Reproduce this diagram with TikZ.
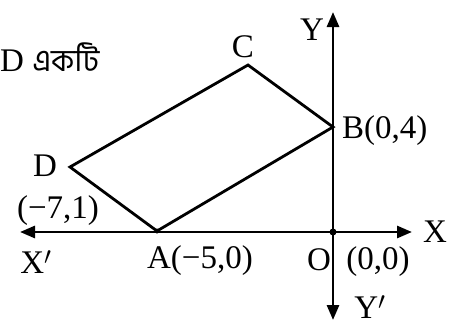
\documentclass[tikz,border=0pt]{standalone}
\usepackage{fontspec}
\setmainfont{Liberation Serif}
\newfontfamily\bnfont[Script=Bengali]{Hind Siliguri}
\usetikzlibrary{arrows.meta}
\begin{document}
\begin{tikzpicture}[x=1pt,y=-1pt,
  axis/.style={line width=2.8pt,-{Triangle[length=15pt,width=12pt]}},
  side/.style={line width=2.8pt,line join=miter},
  lbl/.style={inner sep=0pt,font=\fontsize{33}{35}\selectfont},
  dotpt/.style={circle,fill=black,inner sep=0pt,minimum size=7pt}]
\useasboundingbox (0,0) rectangle (466,327);
\coordinate (O) at (333,232);
\coordinate (A) at (157,231);
\coordinate (B) at (333,127);
\coordinate (C) at (248,65);
\coordinate (D) at (70,167);
\coordinate (Xr) at (412,232);
\coordinate (Xl) at (20,232);
\coordinate (Yt) at (333,12);
\coordinate (Yb) at (333,320);
\draw[axis] (O) -- (Xr);
\draw[axis] (O) -- (Xl);
\draw[axis] (O) -- (Yt);
\draw[axis] (O) -- (Yb);
\draw[side] (A) -- (B) -- (C) -- (D) -- cycle;
\node[dotpt] (o) at (O) {};
\node[dotpt,minimum size=5pt] (a) at (A) {};
\node[lbl,anchor=west] (t) at (0,57) {D {\bnfont\fontsize{31}{33}\selectfont একটি}};
\node[lbl] (lc) at (243,47) {C};
\node[lbl] (ly) at (312,30) {Y};
\node[lbl,anchor=west] (lb) at (342,131) {B(0,4)};
\node[lbl] (ld) at (45,166) {D};
\node[lbl] (ld2) at (58,211) {(−7,1)};
\node[lbl] (lx2) at (36,262) {X$'$};
\node[lbl] (la) at (200,261) {A(−5,0)};
\node[lbl] (lo) at (319,260) {O};
\node[lbl] (loo) at (378,262) {(0,0)};
\node[lbl] (lx) at (435,232) {X};
\node[lbl] (lyy) at (370,307) {Y$'$};
\end{tikzpicture}
\end{document}
